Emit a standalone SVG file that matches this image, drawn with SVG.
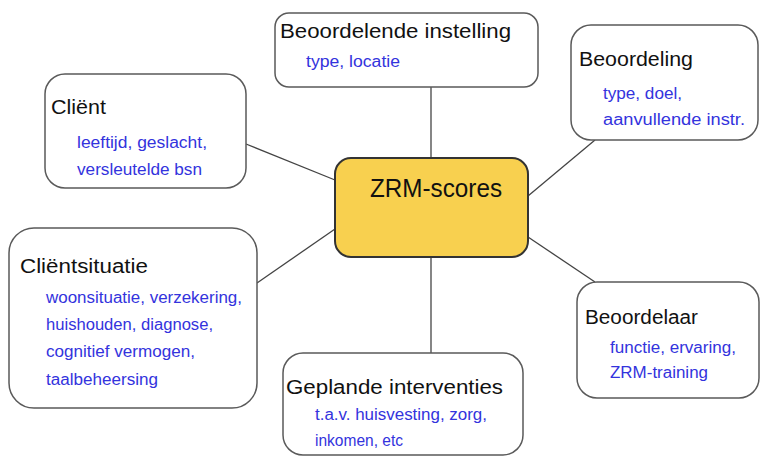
<svg xmlns="http://www.w3.org/2000/svg" width="761" height="459" viewBox="0 0 761 459">
<style>
.box{fill:#fff;stroke:#5a5a5a;stroke-width:1.5}
.center{fill:#f8d04f;stroke:#333;stroke-width:2}
.t{font-family:"Liberation Sans",Arial,sans-serif;font-size:20px;fill:#111}
.s{font-family:"Liberation Sans",Arial,sans-serif;font-size:16px;fill:#3333dd}
.c{font-family:"Liberation Sans",Arial,sans-serif;font-size:25px;fill:#111}
.ln{stroke:#444;stroke-width:1.3;fill:none}
</style>
<rect width="761" height="459" fill="#fff"/>
<g id="connectors">
<line class="ln" x1="246" y1="144" x2="335" y2="180"/>
<line class="ln" x1="257" y1="283" x2="335" y2="229"/>
<line class="ln" x1="431" y1="87" x2="431" y2="158"/>
<line class="ln" x1="431" y1="257" x2="431" y2="353"/>
<line class="ln" x1="528" y1="196" x2="595" y2="140"/>
<line class="ln" x1="528" y1="237" x2="595" y2="282"/>
</g>
<g id="center">
<rect class="center" x="335" y="158" width="193" height="99" rx="16"/>
<text class="c" x="370" y="197" textLength="132" lengthAdjust="spacingAndGlyphs">ZRM-scores</text>
</g>
<g id="client">
<rect class="box" x="45" y="74" width="201" height="114" rx="20"/>
<text class="t" x="51" y="114" textLength="55" lengthAdjust="spacingAndGlyphs">Cliënt</text>
<text class="s" x="77" y="148" textLength="130" lengthAdjust="spacingAndGlyphs">leeftijd, geslacht,</text>
<text class="s" x="77" y="175" textLength="125" lengthAdjust="spacingAndGlyphs">versleutelde bsn</text>
</g>
<g id="beoordelende-instelling">
<rect class="box" x="275" y="13" width="263" height="74" rx="14"/>
<text class="t" x="280" y="38" textLength="231" lengthAdjust="spacingAndGlyphs">Beoordelende instelling</text>
<text class="s" x="306" y="67" textLength="94" lengthAdjust="spacingAndGlyphs">type, locatie</text>
</g>
<g id="beoordeling">
<rect class="box" x="571" y="25" width="187" height="115" rx="20"/>
<text class="t" x="579" y="66" textLength="114" lengthAdjust="spacingAndGlyphs">Beoordeling</text>
<text class="s" x="603" y="99" textLength="79" lengthAdjust="spacingAndGlyphs">type, doel,</text>
<text class="s" x="603" y="125" textLength="142" lengthAdjust="spacingAndGlyphs">aanvullende instr.</text>
</g>
<g id="clientsituatie">
<rect class="box" x="9" y="228" width="248" height="180" rx="25"/>
<text class="t" x="20" y="273" textLength="128" lengthAdjust="spacingAndGlyphs">Cliëntsituatie</text>
<text class="s" x="46" y="303" textLength="196" lengthAdjust="spacingAndGlyphs">woonsituatie, verzekering,</text>
<text class="s" x="46" y="330" textLength="167" lengthAdjust="spacingAndGlyphs">huishouden, diagnose,</text>
<text class="s" x="46" y="357" textLength="149" lengthAdjust="spacingAndGlyphs">cognitief vermogen,</text>
<text class="s" x="46" y="385" textLength="112" lengthAdjust="spacingAndGlyphs">taalbeheersing</text>
</g>
<g id="geplande-interventies">
<rect class="box" x="283" y="353" width="240" height="102" rx="20"/>
<text class="t" x="286" y="394" textLength="217" lengthAdjust="spacingAndGlyphs">Geplande interventies</text>
<text class="s" x="315" y="420" textLength="172" lengthAdjust="spacingAndGlyphs">t.a.v. huisvesting, zorg,</text>
<text class="s" x="315" y="446" textLength="88" lengthAdjust="spacingAndGlyphs">inkomen, etc</text>
</g>
<g id="beoordelaar">
<rect class="box" x="577" y="282" width="182" height="116" rx="20"/>
<text class="t" x="585" y="324" textLength="113" lengthAdjust="spacingAndGlyphs">Beoordelaar</text>
<text class="s" x="610" y="353" textLength="126" lengthAdjust="spacingAndGlyphs">functie, ervaring,</text>
<text class="s" x="610" y="378" textLength="98" lengthAdjust="spacingAndGlyphs">ZRM-training</text>
</g>
</svg>
